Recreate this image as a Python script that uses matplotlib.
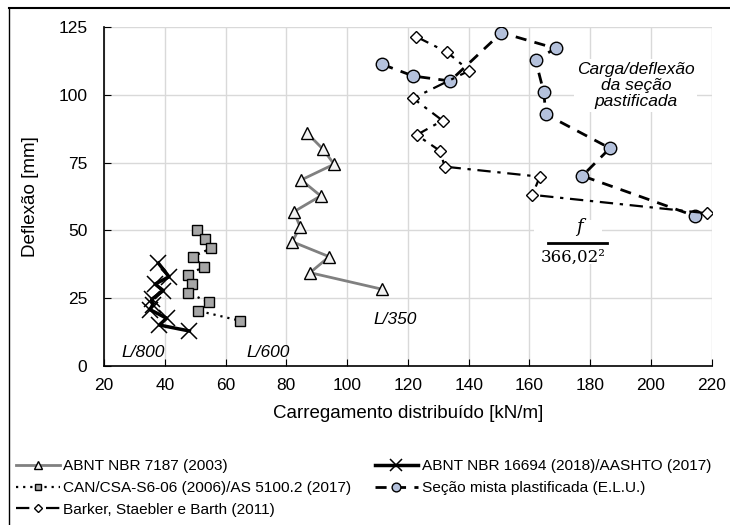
import matplotlib
matplotlib.use("Agg")
import matplotlib.pyplot as plt
from matplotlib.lines import Line2D
from matplotlib.patches import Rectangle

plt.rcParams['font.family'] = ['Liberation Sans', 'DejaVu Sans']

# ---- data ----
nbr7187_x = [86.9, 92.1, 95.7, 84.9, 91.3, 82.5, 84.5, 82.0, 94.1, 87.8, 111.5]
nbr7187_y = [85.8, 79.9, 74.4, 68.6, 62.7, 56.9, 51.4, 45.8, 40.3, 34.4, 28.3]

nbr16694_x = [37.9, 41.4, 36.8, 39.5, 35.7, 36.0, 35.1, 40.6, 38.2, 48.1]
nbr16694_y = [37.9, 32.9, 30.2, 27.8, 24.6, 22.5, 20.8, 17.6, 15.1, 12.9]

can_x = [50.5, 53.3, 55.2, 49.2, 52.9, 47.6, 48.9, 47.6, 54.5, 50.8, 64.7]
can_y = [50.1, 46.9, 43.4, 40.3, 36.6, 33.6, 30.1, 27.0, 23.5, 20.4, 16.7]

plast_x = [111.6, 121.8, 133.9, 150.8, 168.6, 162.0, 164.7, 165.4, 186.5, 177.4, 214.5]
plast_y = [111.2, 106.9, 105.1, 122.9, 117.1, 112.8, 101.1, 92.8, 80.3, 70.1, 55.3]

barker_x = [122.8, 132.9, 140.2, 121.7, 131.4, 122.9, 130.6, 132.1, 163.4, 161.0, 218.6]
barker_y = [121.4, 115.7, 108.9, 98.7, 90.5, 85.2, 79.3, 73.5, 69.8, 63.1, 56.3]

labels = ["ABNT NBR 7187 (2003)",
          "ABNT NBR 16694 (2018)/AASHTO (2017)",
          "CAN/CSA-S6-06 (2006)/AS 5100.2 (2017)",
          "Seção mista plastificada (E.L.U.)",
          "Barker, Staebler e Barth (2011)"]

xticks = [20, 40, 60, 80, 100, 120, 140, 160, 180, 200, 220]
yticks = [0, 25, 50, 75, 100, 125]

fig = plt.figure(figsize=(7.3, 5.25), dpi=100)
ax = fig.add_axes([0.1425, 0.3029, 0.8325, 0.6457])

h1, = ax.plot(nbr7187_x, nbr7187_y, color='#808080', lw=2, marker='^', ms=8,
              mfc='#f2f2f2', mec='black', mew=1, zorder=4)
h2, = ax.plot(nbr16694_x, nbr16694_y, color='black', lw=2.5, marker='x', ms=12,
              mec='black', mew=1.1, zorder=4)
h3, = ax.plot(can_x, can_y, color='black', lw=1.6, ls=(0, (1, 2.2)), marker='s', ms=7,
              mfc='#a6a6a6', mec='black', mew=1, zorder=4)
h4, = ax.plot(plast_x, plast_y, color='black', lw=2, ls=(0, (4, 3)), marker='o', ms=9,
              mfc='#b4c1dc', mec='black', mew=1, zorder=4)
h5, = ax.plot(barker_x, barker_y, color='black', lw=1.6, ls=(0, (6, 3, 1.5, 3)), marker='D', ms=6,
              mfc='white', mec='black', mew=1, zorder=4)

ax.set_xlim(20, 220)
ax.set_ylim(0, 125)
ax.set_xticks(xticks)
ax.set_yticks(yticks)
ax.grid(True, color='#d9d9d9', lw=1)
ax.set_axisbelow(True)
for s in ['top', 'right']:
    ax.spines[s].set_visible(False)
for s in ['left', 'bottom']:
    ax.spines[s].set_color('black')
    ax.spines[s].set_linewidth(1.2)
ax.tick_params(direction='in', length=5, labelsize=12.5, colors='black')
ax.tick_params(axis='y', pad=12)
ax.tick_params(axis='x', pad=9)
ax.set_xlabel("Carregamento distribuído [kN/m]", fontsize=13.5, labelpad=8)
ax.set_ylabel("Deflexão [mm]", fontsize=13.5, labelpad=14)

# annotations
ax.text(32.8, 4.8, "L/800", style='italic', fontsize=12.5, ha='center', va='center')
ax.text(74, 4.8, "L/600", style='italic', fontsize=12.5, ha='center', va='center')
ax.text(115.7, 17, "L/350", style='italic', fontsize=12.5, ha='center', va='center')
ax.text(195, 103.5, "Carga/deflexão\nda seção\npastificada", style='italic', fontsize=12.5,
        ha='center', va='center', linespacing=1.1,
        bbox=dict(facecolor='white', edgecolor='none', pad=2), zorder=3)

# fraction f / 366,02^2
ax.add_patch(Rectangle((161.5, 37.5), 22.5, 16.5, facecolor='white', edgecolor='none', zorder=2))
ax.text(176.3, 51.3, "f", fontsize=13, family='DejaVu Serif', style='italic',
        ha='center', va='center', zorder=3)
ax.plot([166.0, 185.5], [45.3, 45.3], color='black', lw=2, zorder=3)
ax.text(174.5, 40.0, "366,02²", fontsize=12, family='DejaVu Serif',
        ha='center', va='center', zorder=3)

# legend
handles = [h1, h3, h5, h2, h4]
labs = [labels[0], labels[2], labels[4], labels[1], labels[3]]
fig.legend(handles, labs, loc='upper left', bbox_to_anchor=(0.014, 0.137),
           ncol=2, frameon=False, fontsize=11.1, handlelength=2.8, handletextpad=0.25,
           columnspacing=1.5, labelspacing=0.5, borderaxespad=0, markerscale=0.7)

# figure border lines
fig.add_artist(Line2D([9/730, 1.0], [1 - 8/525, 1 - 8/525], color='black', lw=1.5,
                      transform=fig.transFigure))
fig.add_artist(Line2D([9/730, 9/730], [0.0, 1 - 8/525], color='black', lw=1.0,
                      transform=fig.transFigure))

fig.savefig("out.png", dpi=100)
